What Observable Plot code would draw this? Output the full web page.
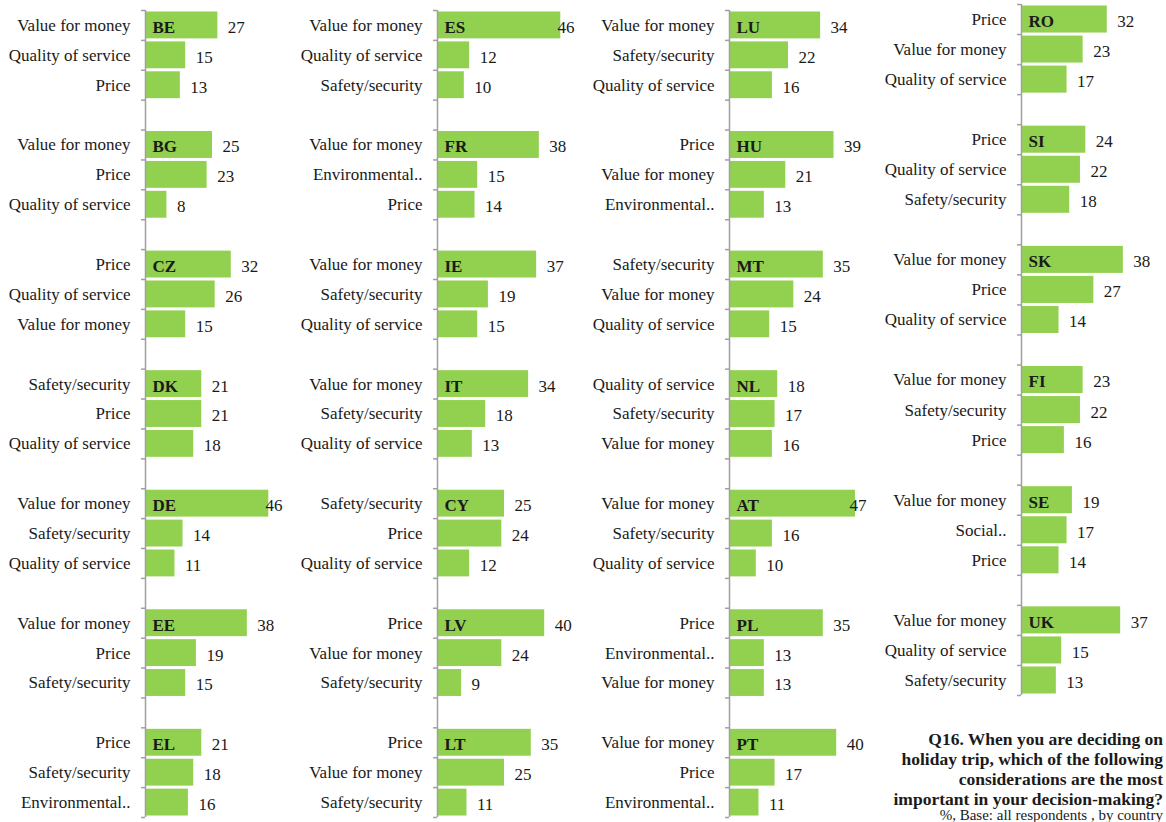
<!DOCTYPE html>
<html>
<head>
<meta charset="utf-8">
<script src="https://cdn.jsdelivr.net/npm/d3@7"></script>
<script src="https://cdn.jsdelivr.net/npm/@observablehq/plot@0.6"></script>
<style>
  html, body { margin: 0; padding: 0; background: #fff; }
  #wrap { position: relative; width: 1166px; height: 822px; overflow: hidden; font-family: "Liberation Serif", serif; color: #1a1a1a; }
  .col { position: absolute; top: 0; }
  #caption { position: absolute; right: 3px; top: 729px; text-align: right; font-weight: bold; font-size: 17.5px; line-height: 20px; }
  #caption .sub { font-weight: normal; font-size: 15px; line-height: 13px; }
</style>
</head>
<body>
<div id="wrap"></div>
<script>
// ---- data ----
const columnCountries = [
  ["BE", "BG", "CZ", "DK", "DE", "EE", "EL"],
  ["ES", "FR", "IE", "IT", "CY", "LV", "LT"],
  ["LU", "HU", "MT", "NL", "AT", "PL", "PT"],
  ["RO", "SI", "SK", "FI", "SE", "UK"]
];
const countries = columnCountries.flat();
const categoryLabels = [
  ["Value for money", "Quality of service", "Price"],          // BE
  ["Value for money", "Price", "Quality of service"],          // BG
  ["Price", "Quality of service", "Value for money"],          // CZ
  ["Safety/security", "Price", "Quality of service"],          // DK
  ["Value for money", "Safety/security", "Quality of service"],// DE
  ["Value for money", "Price", "Safety/security"],             // EE
  ["Price", "Safety/security", "Environmental.."],             // EL
  ["Value for money", "Quality of service", "Safety/security"],// ES
  ["Value for money", "Environmental..", "Price"],             // FR
  ["Value for money", "Safety/security", "Quality of service"],// IE
  ["Value for money", "Safety/security", "Quality of service"],// IT
  ["Safety/security", "Price", "Quality of service"],          // CY
  ["Price", "Value for money", "Safety/security"],             // LV
  ["Price", "Value for money", "Safety/security"],             // LT
  ["Value for money", "Safety/security", "Quality of service"],// LU
  ["Price", "Value for money", "Environmental.."],             // HU
  ["Safety/security", "Value for money", "Quality of service"],// MT
  ["Quality of service", "Safety/security", "Value for money"],// NL
  ["Value for money", "Safety/security", "Quality of service"],// AT
  ["Price", "Environmental..", "Value for money"],             // PL
  ["Value for money", "Price", "Environmental.."],             // PT
  ["Price", "Value for money", "Quality of service"],          // RO
  ["Price", "Quality of service", "Safety/security"],          // SI
  ["Value for money", "Price", "Quality of service"],          // SK
  ["Value for money", "Safety/security", "Price"],             // FI
  ["Value for money", "Social..", "Price"],                    // SE
  ["Value for money", "Quality of service", "Safety/security"] // UK
];
const values = [
  [27, 15, 13], [25, 23, 8], [32, 26, 15], [21, 21, 18], [46, 14, 11], [38, 19, 15], [21, 18, 16],
  [46, 12, 10], [38, 15, 14], [37, 19, 15], [34, 18, 13], [25, 24, 12], [40, 24, 9], [35, 25, 11],
  [34, 22, 16], [39, 21, 13], [35, 24, 15], [18, 17, 16], [47, 16, 10], [35, 13, 13], [40, 17, 11],
  [32, 23, 17], [24, 22, 18], [38, 27, 14], [23, 22, 16], [19, 17, 14], [37, 15, 13]
];
const captionLines = [
  "Q16. When you are deciding on",
  "holiday trip, which of the following",
  "considerations are the most",
  "important in your decision-making?"
];
const captionSub = "%, Base: all respondents , by country";

// ---- drawing ----
const ink = "#1a1a1a";
const axisGray = "#a0a0a0";
const green = "#92D050";
const fontFamily = "'Liberation Serif', serif";

function makeColumn(ci) {
  const rows = [];
  const domain = [];
  const codes = columnCountries[ci];
  codes.forEach((code, k) => {
    const idx = countries.indexOf(code);
    for (let j = 0; j < 3; j++) {
      const key = code + "-" + j;
      domain.push(key);
      rows.push({key, code, rank: j, category: categoryLabels[idx][j], value: values[idx][j]});
    }
    if (k < codes.length - 1) domain.push(code + "-gap");
  });
  const top = ci === 3 ? 4 : 10;
  const bottom = ci === 3 ? 695 : 817;
  const mb = 5;
  const H = bottom + mb;
  const step = (bottom - top) / domain.length;
  const W = ci === 3 ? 290 : 292;
  return Plot.plot({
    width: W,
    height: H,
    marginLeft: 145,
    marginRight: W - 145 - 134,
    marginTop: top,
    marginBottom: mb,
    x: {domain: [0, 50], axis: null},
    y: {domain, axis: null, padding: 0, round: false},
    style: {fontFamily, fontSize: "17px", color: ink, background: "transparent", overflow: "visible"},
    marks: [
      Plot.barX(rows, {x: "value", y: "key", fill: green, insetTop: 1.5, insetBottom: 1.5}),
      Plot.ruleX([0], {stroke: axisGray, strokeWidth: 1.5}),
      Plot.ruleY(domain, {y: d => d, x1: -1.5, x2: 0, dy: -step / 2, stroke: axisGray, strokeWidth: 1.5}),
      Plot.ruleY([domain[domain.length - 1]], {y: d => d, x1: -1.5, x2: 0, dy: step / 2, stroke: axisGray, strokeWidth: 1.5}),
      Plot.text(rows, {x: 0, y: "key", text: "category", textAnchor: "end", dx: -15, fill: ink}),
      Plot.text(rows.filter(d => d.rank === 0), {x: 0, y: "key", text: "code", textAnchor: "start", dx: 7, dy: 2, fontWeight: "bold", fill: ink}),
      Plot.text(rows, {x: d => Math.min(d.value, 41), y: "key", text: d => String(d.value), textAnchor: "start", dx: 10, dy: 2, fill: ink})
    ]
  });
}

const wrap = document.getElementById("wrap");
const lefts = [0, 292, 584, 876];
columnCountries.forEach((_, ci) => {
  const div = document.createElement("div");
  div.className = "col";
  div.style.left = lefts[ci] + "px";
  div.appendChild(makeColumn(ci));
  wrap.appendChild(div);
});

const cap = document.createElement("div");
cap.id = "caption";
cap.innerHTML = captionLines.map(s => `<div>${s}</div>`).join("") + `<div class="sub">${captionSub}</div>`;
wrap.appendChild(cap);
</script>
</body>
</html>
